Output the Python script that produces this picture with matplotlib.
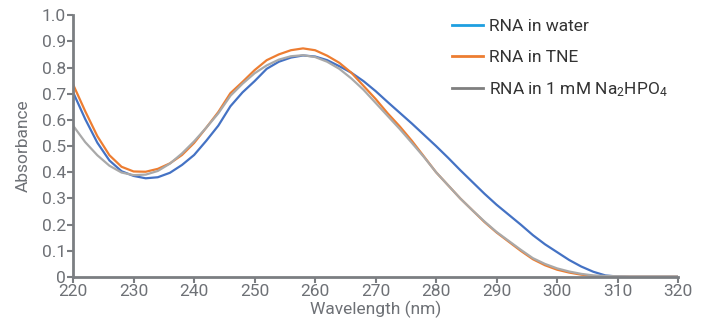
import numpy as np
import matplotlib
matplotlib.use("Agg")
import matplotlib.pyplot as plt
from matplotlib.lines import Line2D

plt.rcParams['font.family'] = ['Roboto', 'DejaVu Sans']
plt.rcParams['mathtext.default'] = 'regular'

wavelength = list(range(220, 322, 2))

rna_water = [0.705, 0.603, 0.513, 0.445, 0.404, 0.386, 0.377, 0.381, 0.398, 0.428,
             0.466, 0.520, 0.578, 0.652, 0.705, 0.748, 0.795, 0.822, 0.838, 0.846,
             0.842, 0.828, 0.805, 0.780, 0.748, 0.710, 0.668, 0.627, 0.586, 0.543,
             0.500, 0.455, 0.408, 0.363, 0.318, 0.276, 0.238, 0.200, 0.160, 0.125,
             0.095, 0.065, 0.040, 0.020, 0.006, 0.002, 0.001, 0.001, 0.001, 0.001,
             0.001]

rna_tne = [0.735, 0.633, 0.538, 0.465, 0.421, 0.403, 0.402, 0.413, 0.434, 0.466,
           0.512, 0.570, 0.630, 0.702, 0.745, 0.790, 0.828, 0.850, 0.866, 0.873,
           0.866, 0.845, 0.818, 0.780, 0.730, 0.680, 0.625, 0.575, 0.520, 0.460,
           0.400, 0.350, 0.300, 0.255, 0.210, 0.170, 0.135, 0.100, 0.068, 0.045,
           0.028, 0.017, 0.009, 0.004, 0.002, 0.001, 0.001, 0.001, 0.001, 0.001,
           0.001]

rna_phosphate = [0.578, 0.515, 0.465, 0.425, 0.399, 0.389, 0.391, 0.405, 0.433, 0.472,
                 0.518, 0.570, 0.625, 0.692, 0.738, 0.778, 0.808, 0.830, 0.843, 0.847,
                 0.840, 0.822, 0.795, 0.758, 0.715, 0.665, 0.615, 0.565, 0.512, 0.458,
                 0.400, 0.350, 0.300, 0.255, 0.212, 0.172, 0.138, 0.104, 0.072, 0.050,
                 0.033, 0.021, 0.012, 0.006, 0.004, 0.003, 0.002, 0.002, 0.002, 0.002,
                 0.002]

labels = ['RNA in water', 'RNA in TNE', 'RNA in 1 mM Na$_2$HPO$_4$']
x_ticks = list(range(220, 330, 10))
y_ticks = [0, 0.1, 0.2, 0.3, 0.4, 0.5, 0.6, 0.7, 0.8, 0.9, 1.0]
y_tick_labels = ['0', '0.1', '0.2', '0.3', '0.4', '0.5', '0.6', '0.7', '0.8', '0.9', '1.0']

axis_col = '#7b7e82'
text_col = '#6e7176'

fig = plt.figure(figsize=(7.10, 3.29), dpi=100)
ax = fig.add_axes([0.103, 0.158, 0.852, 0.796])

ax.plot(wavelength, rna_water, color='#4472C4', lw=1.6)
ax.plot(wavelength, rna_tne, color='#ED7D31', lw=1.6)
ax.plot(wavelength, rna_phosphate, color='#A9A9A9', lw=1.6)

ax.set_xlim(220, 320)
ax.set_ylim(0, 1.0)
ax.set_xticks(x_ticks)
ax.set_yticks(y_ticks)
ax.set_yticklabels(y_tick_labels)

for s in ['top', 'right']:
    ax.spines[s].set_visible(False)
for s in ['left', 'bottom']:
    ax.spines[s].set_color(axis_col)
    ax.spines[s].set_linewidth(2)
ax.tick_params(axis='both', colors=axis_col, labelcolor=text_col, labelsize=12.5,
               width=1.5, length=4, direction='out', pad=1)

ax.set_xlabel('Wavelength (nm)', color=text_col, fontsize=12.5, labelpad=1)
ax.set_ylabel('Absorbance', color=text_col, fontsize=12.5, labelpad=8)

handles = [Line2D([], [], color='#1E9FE0', lw=2),
           Line2D([], [], color='#ED7D31', lw=2),
           Line2D([], [], color='#7F7F7F', lw=2)]
leg = ax.legend(handles, labels, loc='upper left', bbox_to_anchor=(0.60, 1.045),
                frameon=False, fontsize=12.5, handlelength=1.8, handletextpad=0.35,
                labelspacing=0.9)
for t in leg.get_texts():
    t.set_color('#333333')

fig.savefig('out.png', dpi=100)
